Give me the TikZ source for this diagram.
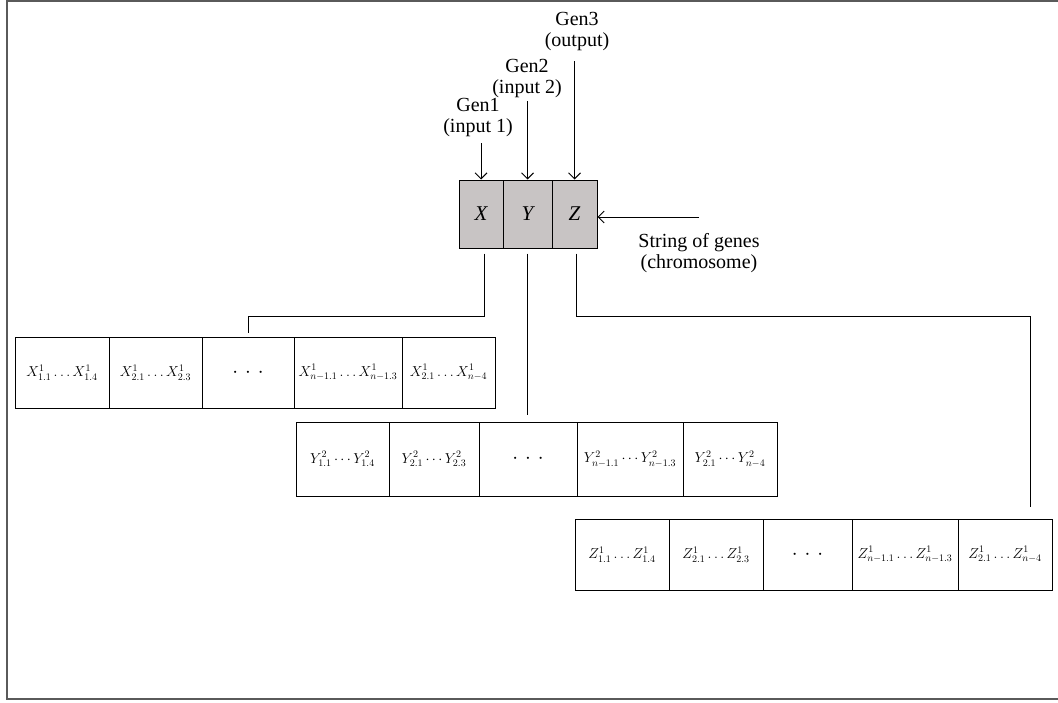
\documentclass[tikz,border=0pt]{standalone}
\usepackage{fontspec}
\setmainfont{Liberation Serif}
\usetikzlibrary{arrows.meta}
\definecolor{boxgray}{RGB}{200,196,196}
\definecolor{framegray}{RGB}{90,90,90}
\begin{document}
\begin{tikzpicture}[x=1pt,y=-1pt,line width=1pt,
  lbl/.style={font=\fontsize{20}{21}\selectfont, align=center, inner sep=0pt},
  gene/.style={draw, fill=boxgray, minimum height=68pt, inner sep=0pt, font=\fontsize{21}{24}\selectfont\itshape},
  cell/.style={draw, inner sep=0pt, font=\fontsize{14}{16}\selectfont},
  dots/.style={cell, font=\fontsize{22}{22}\selectfont},
  arr/.style={-{Straight Barb[length=6pt,width=12pt]}},
]
\useasboundingbox (0,0) rectangle (1058,702);
\draw[framegray, line width=1.2pt] (1058,1) -- (7,1) -- (7,699) -- (1058,699);

% main chromosome
\node[gene, minimum width=44pt] (gx) at (481,214) {X};
\node[gene, minimum width=49pt] (gy) at (527.5,214) {Y};
\node[gene, minimum width=45pt] (gz) at (574.5,214) {Z};

% gene labels
\node[lbl] (g1) at (478,118) {Gen1\\(input 1)};
\node[lbl] (g2) at (527,78.5) {Gen2\\(input 2)};
\node[lbl] (g3) at (577,31.5) {Gen3\\(output)};
\coordinate (t1) at (0,143);
\coordinate (t2) at (0,101);
\coordinate (t3) at (0,61);
\draw[arr] (gx.north |- t1) -- (gx.north);
\draw[arr] (gy.north |- t2) -- (gy.north);
\draw[arr] (gz.north |- t3) -- (gz.north);

% string of genes
\node[lbl] (str) at (699,253) {String of genes\\(chromosome)};
\coordinate (sa) at (699,217);
\draw[arr] (sa) -- (gz.east |- sa);

% X row
\node[cell, minimum width=94pt, minimum height=71pt] (x1) at (62,372.5) {$X^1_{1.1}\ldots X^1_{1.4}$};
\node[cell, minimum width=93pt, minimum height=71pt] (x2) at (155.5,372.5) {$X^1_{2.1}\ldots X^1_{2.3}$};
\node[dots, minimum width=92pt, minimum height=71pt] (x3) at (248,372.5) {$\cdot$\hspace{7pt}$\cdot$\hspace{7pt}$\cdot$};
\node[cell, minimum width=108pt, minimum height=71pt] (x4) at (348,372.5) {$X^1_{n-1.1}\ldots X^1_{n-1.3}$};
\node[cell, minimum width=93pt, minimum height=71pt] (x5) at (448.5,372.5) {$X^1_{2.1}\ldots X^1_{n-4}$};

% Y row
\node[cell, minimum width=93pt, minimum height=74pt] (y1) at (342.5,459) {$Y^2_{1.1}\cdots Y^2_{1.4}$};
\node[cell, minimum width=90pt, minimum height=74pt] (y2) at (434,459) {$Y^2_{2.1}\cdots Y^2_{2.3}$};
\node[dots, minimum width=98pt, minimum height=74pt] (y3) at (528,459) {$\cdot$\hspace{7pt}$\cdot$\hspace{7pt}$\cdot$};
\node[cell, minimum width=106pt, minimum height=74pt] (y4) at (630,459) {$Y^2_{n-1.1}\cdots Y^2_{n-1.3}$};
\node[cell, minimum width=94pt, minimum height=74pt] (y5) at (730,459) {$Y^2_{2.1}\cdots Y^2_{n-4}$};

% Z row
\node[cell, minimum width=94pt, minimum height=71pt] (z1) at (622,554.5) {$Z^1_{1.1}\ldots Z^1_{1.4}$};
\node[cell, minimum width=94pt, minimum height=71pt] (z2) at (716,554.5) {$Z^1_{2.1}\ldots Z^1_{2.3}$};
\node[dots, minimum width=89pt, minimum height=71pt] (z3) at (807.5,554.5) {$\cdot$\hspace{7pt}$\cdot$\hspace{7pt}$\cdot$};
\node[cell, minimum width=106pt, minimum height=71pt] (z4) at (905,554.5) {$Z^1_{n-1.1}\ldots Z^1_{n-1.3}$};
\node[cell, minimum width=94pt, minimum height=71pt] (z5) at (1005,554.5) {$Z^1_{2.1}\ldots Z^1_{n-4}$};

% connectors from chromosome to rows
\coordinate (hx) at (0,316);
\coordinate (zc) at (1030,0);
\draw[shorten <=5pt, shorten >=4pt] ([xshift=3pt]gx.south) -- ([xshift=3pt]gx.south |- hx) -| (x3.north);
\draw[shorten <=5pt, shorten >=7pt] (gy.south) -- (gy.south |- y3.north);
\draw[shorten <=5pt, shorten >=12pt] ([xshift=1.5pt]gz.south) -- ([xshift=1.5pt]gz.south |- hx) -| (zc |- z5.north);
\end{tikzpicture}
\end{document}
